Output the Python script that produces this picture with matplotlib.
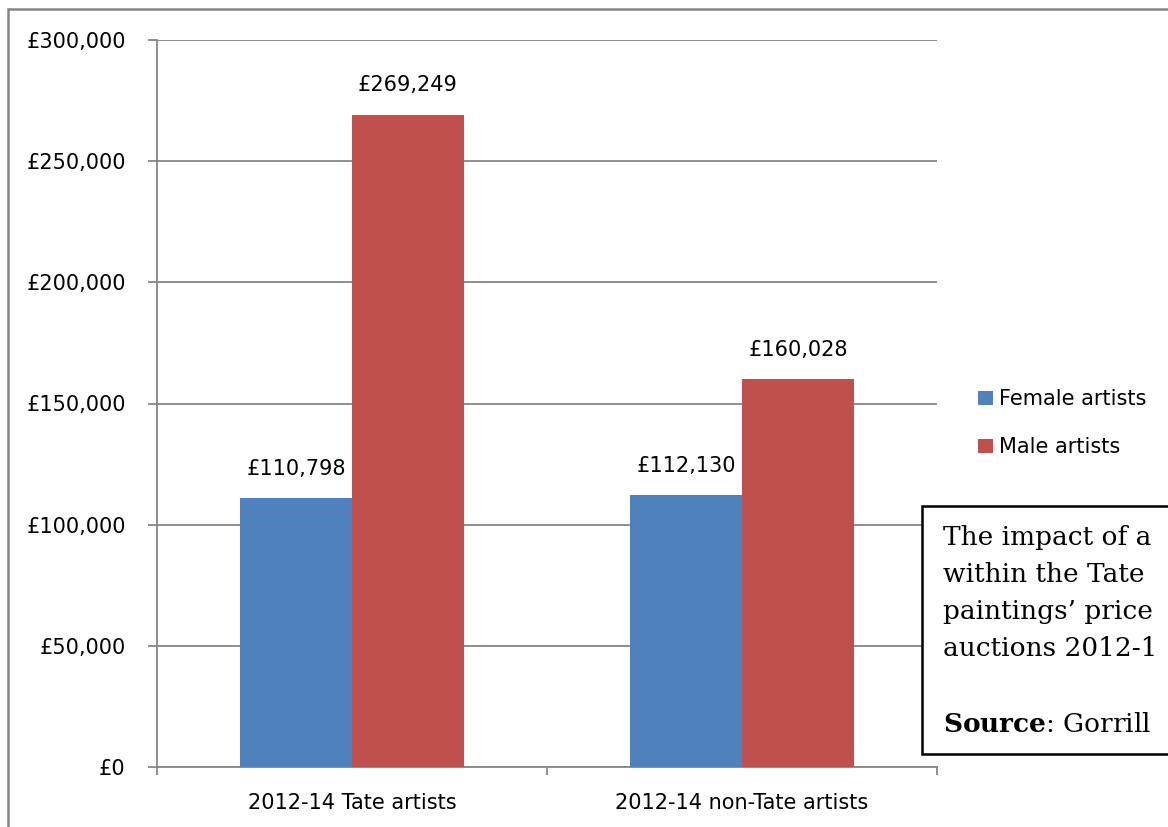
import matplotlib.pyplot as plt
import numpy as np
from matplotlib.patches import Rectangle

# DATA
categories = ['2012-14 Tate artists', '2012-14 non-Tate artists']
female = [110798, 112130]
male = [269249, 160028]
seriesNames = ['Female artists', 'Male artists']
yTicks = [0, 50000, 100000, 150000, 200000, 250000, 300000]

blue = '#4F81BD'
red = '#C0504D'
gridCol = '#868686'
fs = 15

plt.rcParams['font.family'] = ['DejaVu Sans']
plt.rcParams['mathtext.fontset'] = 'dejavuserif'

fig = plt.figure(figsize = (11.68, 8.27), dpi = 100)
ax = fig.add_axes([157/1168, 1 - 767/827, 780/1168, 727/827])

x = np.arange(len(categories))
w = 112 / 390
b1 = ax.bar(x - w/2, female, w, color = blue, label = seriesNames[0], zorder = 3)
b2 = ax.bar(x + w/2, male, w, color = red, label = seriesNames[1], zorder = 3)

for bars, vals in [(b1, female), (b2, male)]:
    for bar, v in zip(bars, vals):
        ax.annotate('£{:,}'.format(v), (bar.get_x() + bar.get_width()/2, v),
                    xytext = (0, 14), textcoords = 'offset points',
                    ha = 'center', va = 'bottom', fontsize = fs)

ax.set_xlim(-0.5, 1.5)
ax.set_ylim(0, 300000)
ax.set_yticks(yTicks)
ax.set_yticklabels(['£{:,}'.format(t) for t in yTicks], fontsize = fs)
ax.yaxis.grid(True, color = gridCol, linewidth = 1.3, zorder = 0)

# category ticks at boundaries, labels centred
ax.set_xticks([-0.5, 0.5, 1.5])
ax.set_xticklabels([])
ax.set_xticks(x, minor = True)
ax.set_xticklabels(categories, minor = True, fontsize = fs)
ax.tick_params(axis = 'x', which = 'minor', length = 0, pad = 19)
ax.tick_params(axis = 'x', which = 'major', length = 6, width = 1.3, color = gridCol)
ax.tick_params(axis = 'y', length = 6.5, width = 1.3, color = gridCol, pad = 16)

for s in ['top', 'right']:
    ax.spines[s].set_visible(False)
for s in ['left', 'bottom']:
    ax.spines[s].set_color(gridCol)
    ax.spines[s].set_linewidth(1.3)

leg = fig.legend(loc = 'upper left', bbox_to_anchor = (970/1168, 1 - 381/827),
                 frameon = False, fontsize = fs, handlelength = 0.7, handleheight = 0.7,
                 handletextpad = 0.3, labelspacing = 1.35, borderaxespad = 0)

# text box
fig.add_artist(Rectangle((922/1168, 1 - 754/827), 0.3, 248/827, transform = fig.transFigure,
                         facecolor = 'white', edgecolor = 'black', linewidth = 1.8, zorder = 5))
boxLines = ['The impact of a', 'within the Tate', 'paintings\u2019 price', 'auctions 2012-1']
for i, line in enumerate(boxLines):
    fig.text(943/1168, 1 - (538 + i*37)/827, line, fontsize = 19, family = 'DejaVu Serif',
             va = 'center', ha = 'left', zorder = 6)
fig.text(943/1168, 1 - 725/827, r'$\bf{Source}$: Gorrill', fontsize = 19, family = 'DejaVu Serif',
         va = 'center', ha = 'left', zorder = 6)

# outer chart border
fig.add_artist(Rectangle((8/1168, -0.1), 1.2, 1 - 9/827 + 0.1, transform = fig.transFigure,
                         facecolor = 'none', edgecolor = gridCol, linewidth = 1.8, zorder = 0))

fig.savefig('out.png', dpi = 100)
